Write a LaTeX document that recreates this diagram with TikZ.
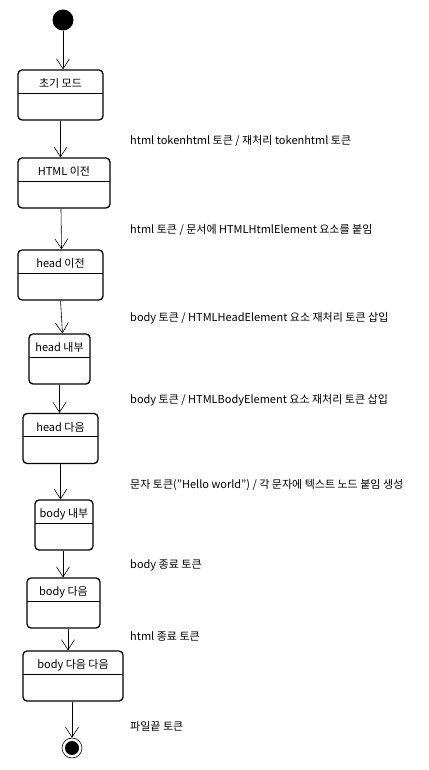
\documentclass[tikz,border=0pt]{standalone}
\usepackage{fontspec}
\setmainfont{Noto Sans CJK KR}
\usetikzlibrary{arrows.meta,positioning}

\tikzset{
    state/.style={draw, line width=1.3pt, rounded corners=4pt, inner xsep=0pt, inner ysep=0pt,
        text height=17.5pt, text depth=32.5pt, font=\fontsize{11}{12}\selectfont,
        path picture={\draw[line width=0.6pt] ([yshift=-23pt]path picture bounding box.north west)
            -- ([yshift=-23pt]path picture bounding box.north east);}},
    trans/.style={line width=0.6pt, -{Straight Barb[length=10pt,width=13pt]}},
    event/.style={anchor=west, inner sep=0pt, font=\fontsize{11}{12}\selectfont}
}

\begin{document}
\begin{tikzpicture}[x=1pt, y=-1pt]
    \useasboundingbox (0,0) rectangle (428,770);

    % start and end
    \node[circle, fill=black, minimum size=21pt, inner sep=0pt] (init) at (63,20) {};
    \node[circle, draw, line width=0.6pt, minimum size=20pt, inner sep=0pt] (fin) at (72,748) {};
    \fill (fin.center) circle (7pt);

    % states
    \node[state, minimum width=85pt] (s1) at (60.5,95) {초기 모드};
    \node[state, minimum width=92pt] (s2) at (64,183) {HTML 이전};
    \node[state, minimum width=85pt] (s3) at (60.5,275) {head 이전};
    \node[state, minimum width=61pt] (s4) at (59.5,359) {head 내부};
    \node[state, minimum width=75pt] (s5) at (60.5,438.5) {head 다음};
    \node[state, minimum width=58pt] (s6) at (64,525) {body 내부};
    \node[state, minimum width=73pt] (s7) at (63.5,603) {body 다음};
    \node[state, minimum width=100pt] (s8) at (73,676) {body 다음 다음};

    % transitions
    \draw[trans] (init) -- (s1.north -| init);
    \draw[trans] (s1.south) -- (s2.north -| s1.south);
    \draw[trans] ([xshift=-3pt]s2.south) -- ([xshift=1pt]s3.north);
    \draw[trans] (s3.south) -- ([xshift=3pt]s4.north);
    \draw[trans] (s4.south) -- (s5.north -| s4.south);
    \draw[trans] (s5.south) -- (s6.north -| s5.south);
    \draw[trans] ([xshift=-1pt]s6.south) -- ([xshift=-0.5pt]s7.north);
    \draw[trans] ([xshift=4.5pt]s7.south) -- ([xshift=-5pt]s8.north);
    \draw[trans] ([xshift=-1pt]s8.south) -- (fin.north);

    % events
    \node[event] (e1) at (130,141) {html tokenhtml 토큰 / 재처리 tokenhtml 토큰};
    \node[event] (e2) at (130,230) {html 토큰 / 문서에 HTMLHtmlElement 요소를 붙임};
    \node[event] (e3) at (130,318) {body 토큰 / HTMLHeadElement 요소 재처리 토큰 삽입};
    \node[event] (e4) at (130,400) {body 토큰 / HTMLBodyElement 요소 재처리 토큰 삽입};
    \node[event] (e5) at (130,485) {문자 토큰("Hello world") / 각 문자에 텍스트 노드 붙임 생성};
    \node[event] (e6) at (130,565) {body 종료 토큰};
    \node[event] (e7) at (130,637) {html 종료 토큰};
    \node[event] (e8) at (130,726) {파일끝 토큰};
\end{tikzpicture}
\end{document}
